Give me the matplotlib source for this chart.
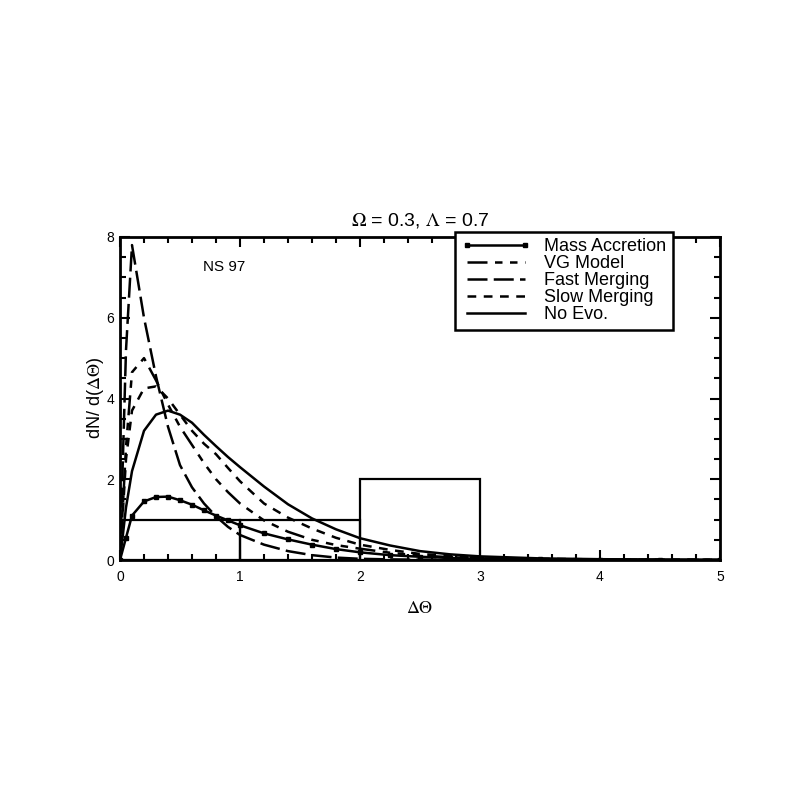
import matplotlib
matplotlib.use("Agg")
import matplotlib.pyplot as plt
from matplotlib.ticker import MultipleLocator

plt.rcParams['font.family'] = ['Liberation Sans', 'DejaVu Sans']
plt.rcParams['mathtext.fontset'] = 'stix'

x = [0, 0.05, 0.1, 0.2, 0.3, 0.4, 0.5, 0.6, 0.7, 0.8, 0.9, 1.0, 1.2, 1.4, 1.6,
     1.8, 2.0, 2.25, 2.5, 2.75, 3.0, 3.5, 4.0, 4.5, 5.0]

mass_accretion = [0, 0.55, 1.1, 1.45, 1.56, 1.57, 1.48, 1.37, 1.23, 1.1, 0.98, 0.86,
                  0.66, 0.51, 0.38, 0.27, 0.19, 0.12, 0.08, 0.05, 0.03, 0.015, 0.007,
                  0.004, 0.002]
vg_model = [0, 2.8, 4.65, 5.0, 4.45, 3.85, 3.3, 2.85, 2.4, 2.0, 1.68, 1.4, 0.98, 0.7,
            0.5, 0.37, 0.28, 0.18, 0.11, 0.07, 0.04, 0.02, 0.01, 0.005, 0.003]
fast_merging = [0, 5.2, 7.8, 6.0, 4.55, 3.3, 2.35, 1.8, 1.4, 1.08, 0.82, 0.62, 0.38,
                0.22, 0.12, 0.06, 0.03, 0.015, 0.008, 0.004, 0.002, 0.001, 0, 0, 0]
slow_merging = [0, 2.5, 3.7, 4.25, 4.3, 4.0, 3.6, 3.2, 2.88, 2.62, 2.28, 1.95, 1.4,
                1.05, 0.78, 0.55, 0.38, 0.25, 0.15, 0.1, 0.06, 0.03, 0.015, 0.008, 0.004]
no_evo = [0, 1.3, 2.2, 3.2, 3.6, 3.7, 3.6, 3.4, 3.1, 2.82, 2.55, 2.3, 1.82, 1.38, 1.03,
          0.76, 0.54, 0.36, 0.22, 0.14, 0.09, 0.04, 0.02, 0.01, 0.005]

hist_left = [0, 1, 2]
hist_heights = [1, 1, 2]

fig = plt.figure(figsize=(7.97, 8.09), dpi=100)
ax = fig.add_axes([120/797, 1 - 560/809, 600/797, 323/809])

lw = 1.8
ax.plot(x, mass_accretion, color='k', lw=lw, marker='s', markersize=3,
        label='Mass Accretion')
ax.plot(x, vg_model, color='k', lw=lw, dashes=(8, 3, 3, 3, 3, 3, 3, 3),
        label='VG Model')
ax.plot(x, fast_merging, color='k', lw=lw, dashes=(8, 2.5),
        label='Fast Merging')
ax.plot(x, slow_merging, color='k', lw=lw, dashes=(3.5, 3),
        label='Slow Merging')
ax.plot(x, no_evo, color='k', lw=lw, label='No Evo.')

ax.bar(hist_left, hist_heights, width=1, align='edge', fill=False,
       edgecolor='k', linewidth=1.6)

ax.set_xlim(0, 5)
ax.set_ylim(0, 8)
ax.xaxis.set_major_locator(MultipleLocator(1))
ax.xaxis.set_minor_locator(MultipleLocator(0.2))
ax.yaxis.set_major_locator(MultipleLocator(2))
ax.yaxis.set_minor_locator(MultipleLocator(0.5))
ax.tick_params(which='both', direction='in', top=True, right=True, width=1.5,
               labelsize=10)
ax.tick_params(which='major', length=7, pad=7)
ax.tick_params(which='minor', length=4)
ax.tick_params(axis='y', which='major', pad=4)
for s in ax.spines.values():
    s.set_linewidth(2)

ax.set_title(r'$\Omega$ = 0.3, $\Lambda$ = 0.7', fontsize=14, pad=8)
ax.set_xlabel(r'$\Delta\Theta$', fontsize=13, labelpad=12)
ax.set_ylabel(r'dN/ d($\Delta\Theta$)', fontsize=13)
ax.yaxis.set_label_coords(-0.024, 0.5)
ax.text(0.87, 7.25, 'NS 97', fontsize=11, ha='center', va='center')

leg = ax.legend(loc='upper left', bbox_to_anchor=(335/600, 1 + 5/323),
                fontsize=13, frameon=True, fancybox=False, edgecolor='k',
                handlelength=3.8, handletextpad=0.8, labelspacing=0.0,
                borderpad=0.35, borderaxespad=0, numpoints=2)
leg.get_frame().set_linewidth(1.8)
leg.get_frame().set_alpha(1)
leg.set_zorder(5)

fig.savefig('out.png', dpi=100)
